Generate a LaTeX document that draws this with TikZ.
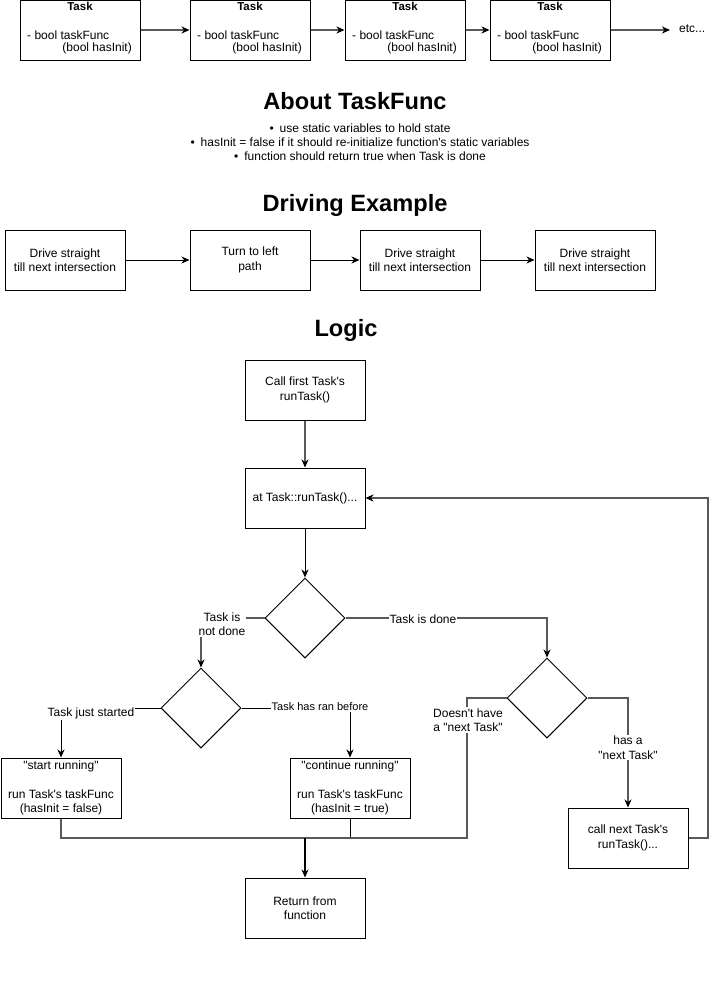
\documentclass[tikz,border=0pt]{standalone}
\usepackage{fontspec}
\setmainfont{Liberation Sans}[Ligatures=TeXOff]
\usetikzlibrary{arrows.meta,shapes.geometric}
\tikzset{
  box/.style={draw, line width=1pt, minimum width=120pt, minimum height=60pt, inner sep=0pt, align=center, font=\fontsize{12}{14.5}\selectfont},
  dia/.style={draw, diamond, aspect=1, line width=1pt, minimum width=80pt, minimum height=80pt, inner sep=0pt},
  txt/.style={inner sep=0pt, align=center, font=\fontsize{12}{14.5}\selectfont},
  head/.style={inner sep=0pt, font=\fontsize{23.6}{27}\selectfont\bfseries},
  lbl/.style={fill=white, inner sep=1pt, align=center, font=\fontsize{12}{14.5}\selectfont},
  crisp/.style={line width=1pt, black},
  soft/.style={line width=1.4pt, black!65},
  arr/.style={-{Stealth[length=8pt, width=7pt, inset=2.5pt, color=black]}}
}
\newcommand{\mytaskbox}[2]{%
  \node[box] (#1) at (#2,30) {};
  \node[txt, font=\fontsize{11.5}{13}\selectfont\bfseries] (#1h) at (#2,6) {Task};
  \node[txt, anchor=west] (#1a) at (#2-53,35) {- bool taskFunc};
  \node[txt, anchor=east] (#1b) at (#2+52,48) {(bool hasInit)};
}
\begin{document}
\begin{tikzpicture}[x=1pt, y=-1pt]
\useasboundingbox (0,0) rectangle (717,999);

% top row
\mytaskbox{t1}{80}
\mytaskbox{t2}{250}
\mytaskbox{t3}{405}
\mytaskbox{t4}{550}
\coordinate (etc) at (670,30);
\node[txt, anchor=west] (etctext) at (679,29) {etc...};
\draw[soft, arr] (t1) -- (t2);
\draw[soft, arr] (t2) -- (t3);
\draw[soft, arr] (t3) -- (t4);
\draw[soft, arr] (t4) -- (etc);

% About TaskFunc
\node[head] (h1) at (355,101) {About TaskFunc};
\node[txt] (b1) at (360,128) {•\hspace{6pt}use static variables to hold state};
\node[txt] (b2) at (360,142) {•\hspace{6pt}hasInit = false if it should re-initialize function's static variables};
\node[txt] (b3) at (360,156) {•\hspace{6pt}function should return true when Task is done};

% Driving example
\node[head] (h2) at (355,205) {Driving Example};
\node[box] (d1) at (65,260) {Drive straight\\till next intersection};
\node[box] (d2) at (250,260) {Turn to left\\path};
\node[box] (d3) at (420,260) {Drive straight\\till next intersection};
\node[box] (d4) at (595,260) {Drive straight\\till next intersection};
\draw[crisp, arr] (d1) -- (d2);
\draw[crisp, arr] (d2) -- (d3);
\draw[crisp, arr] (d3) -- (d4);

% Logic
\node[head] (h3) at (346,330) {Logic};
\node[box] (L1) at (305,390) {Call first Task's\\runTask()};
\node[box] (L2) at (305,498) {at Task::runTask()...};
\node[dia] (dA) at (305,618) {};
\node[dia] (dB) at (201,708) {};
\node[dia] (dC) at (547,698) {};
\node[box] (S) at (61,788) {"start running"\\\mbox{}\\run Task's taskFunc\\(hasInit = false)};
\node[box] (C) at (350,788) {"continue running"\\\mbox{}\\run Task's taskFunc\\(hasInit = true)};
\node[box] (R) at (305,908) {Return from\\function};
\node[box] (N) at (628,838) {call next Task's\\runTask()...};

\coordinate (m) at (305,838);
\coordinate (k1) at (467,838);
\coordinate (loop) at (708,838);

\draw[soft, arr] (L1) -- (L2);
\draw[crisp, arr] (L2) -- (dA);
\draw[soft, arr] (dA.west) -| (dB.north);
\draw[soft, arr] (dA.east) -| (dC.north);
\draw[crisp, arr] (dB.west) -| (S.north);
\draw[crisp, arr] (dB.east) -| (C.north);
\draw[soft] (S.south) |- (m);
\draw[crisp] (C.south) |- (m);
\draw[soft] (dC.west) -| (k1) -- (m);
\draw[crisp, arr, line width=1.2pt] (m) -- (R);
\draw[soft, arr] (dC.east) -| (N.north);
\draw[soft, arr] (N.east) -- (loop) |- (L2.east);

\node[lbl] (la) at (222,624) {Task is\\not done};
\node[lbl] (lb) at (423,619) {Task is done};
\node[lbl] (lc) at (91,713) {Task just started};
\node[lbl, font=\fontsize{11}{13}\selectfont] (ld) at (320,707) {Task has ran before};
\node[lbl] (le) at (468,720) {Doesn't have\\a "next Task"};
\node[lbl] (lf) at (628,747.5) {has a\\"next Task"};
\end{tikzpicture}
\end{document}
